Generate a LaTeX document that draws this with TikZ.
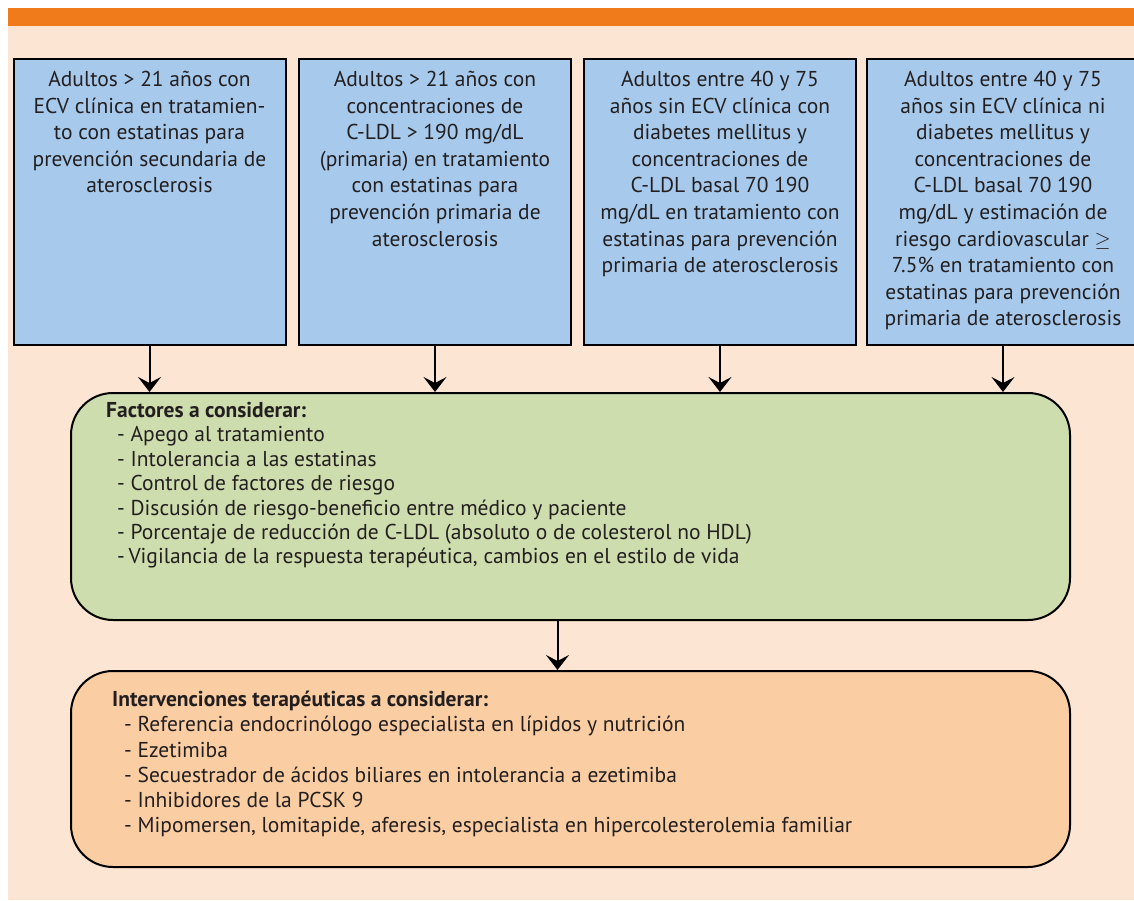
\documentclass[tikz,border=0pt]{standalone}
\usepackage{fontspec}
\setmainfont{PT Sans}
\usetikzlibrary{arrows.meta}

\definecolor{bgpeach}{HTML}{FDE5D3}
\definecolor{barorange}{HTML}{EF7B1A}
\definecolor{popblue}{HTML}{A7CAEC}
\definecolor{factgreen}{HTML}{CEDDAD}
\definecolor{intorange}{HTML}{FACDA3}
\definecolor{inkdark}{HTML}{231F20}

\begin{document}
\begin{tikzpicture}[
    x=1pt, y=-1pt,
    popbox/.style={rectangle, draw=black, line width=2pt, fill=popblue, minimum width=272pt, minimum height=286pt, anchor=north, inner sep=0pt},
    poptext/.style={anchor=north, align=center, text=inkdark, font=\fontsize{21.5}{26.6}\selectfont, inner sep=0pt},
    roundbox/.style={rectangle, draw=black, line width=2pt, rounded corners=42pt, minimum width=999pt, inner sep=0pt},
    listtext/.style={anchor=north west, align=left, text=inkdark, inner sep=0pt},
    arr/.style={-{Stealth[length=15pt, width=23pt, inset=6pt]}, line width=2pt}
]

\clip (0,0) rectangle (1134,901);

% Background
\fill[white] (0,0) rectangle (1134,901);
\fill[bgpeach] (8,8) rectangle (1140,900);
\fill[barorange] (8,8) rectangle (1140,26);

% Patient groups
\node[popbox] (grupoA) at (149.5,58) {};
\node[popbox] (grupoB) at (435,58) {};
\node[popbox] (grupoC) at (720,58) {};
\node[popbox] (grupoD) at (1003,58) {};

\node[poptext] (textoA) at ([yshift=-13pt]grupoA.north) {Adultos > 21 años con\\ECV clínica en tratamien-\\to con estatinas para\\prevención secundaria de\\aterosclerosis};
\node[poptext] (textoB) at ([yshift=-13pt]grupoB.north) {Adultos > 21 años con\\concentraciones de\\C-LDL > 190 mg/dL\\(primaria) en tratamiento\\con estatinas para\\prevención primaria de\\aterosclerosis};
\node[poptext] (textoC) at ([yshift=-13pt]grupoC.north) {Adultos entre 40 y 75\\años sin ECV clínica con\\diabetes mellitus y\\concentraciones de\\C-LDL basal 70 190\\mg/dL en tratamiento con\\estatinas para prevención\\primaria de aterosclerosis};
\node[poptext] (textoD) at ([yshift=-13pt]grupoD.north) {Adultos entre 40 y 75\\años sin ECV clínica ni\\diabetes mellitus y\\concentraciones de\\C-LDL basal 70 190\\mg/dL y estimación de\\riesgo cardiovascular $\geq$\\7.5\% en tratamiento con\\estatinas para prevención\\primaria de aterosclerosis};

% Factors
\node[roundbox, fill=factgreen, minimum height=227pt] (factores) at (570.5,506.5) {};
\node[listtext, font=\fontsize{21.5}{24.4}\selectfont] (textoFact) at (106,402) {\textbf{Factores a considerar:}\\
\hspace*{11pt}- Apego al tratamiento\\
\hspace*{11pt}- Intolerancia a las estatinas\\
\hspace*{11pt}- Control de factores de riesgo\\
\hspace*{11pt}- Discusión de riesgo-beneficio entre médico y paciente\\
\hspace*{11pt}- Porcentaje de reducción de C-LDL (absoluto o de colesterol no HDL)\\
\hspace*{11pt}-\,Vigilancia de la respuesta terapéutica, cambios en el estilo de vida};

% Interventions
\node[roundbox, fill=intorange, minimum height=196pt] (interv) at (570.5,769) {};
\node[listtext, font=\fontsize{21.5}{25.2}\selectfont] (textoInt) at (112,691) {\textbf{Intervenciones terapéuticas a considerar:}\\
\hspace*{12pt}- Referencia endocrinólogo especialista en lípidos y nutrición\\
\hspace*{12pt}- Ezetimiba\\
\hspace*{12pt}- Secuestrador de ácidos biliares en intolerancia a ezetimiba\\
\hspace*{12pt}- Inhibidores de la PCSK 9\\
\hspace*{12pt}- Mipomersen, lomitapide, aferesis, especialista en hipercolesterolemia familiar};

% Arrows
\draw[arr] (grupoA.south) -- (grupoA.south |- factores.north);
\draw[arr] (grupoB.south) -- (grupoB.south |- factores.north);
\draw[arr] (grupoC.south) -- (grupoC.south |- factores.north);
\draw[arr] (grupoD.south) -- (grupoD.south |- factores.north);
\draw[arr] ([xshift=-13pt]factores.south) -- ([xshift=-13pt]interv.north);

\end{tikzpicture}
\end{document}
